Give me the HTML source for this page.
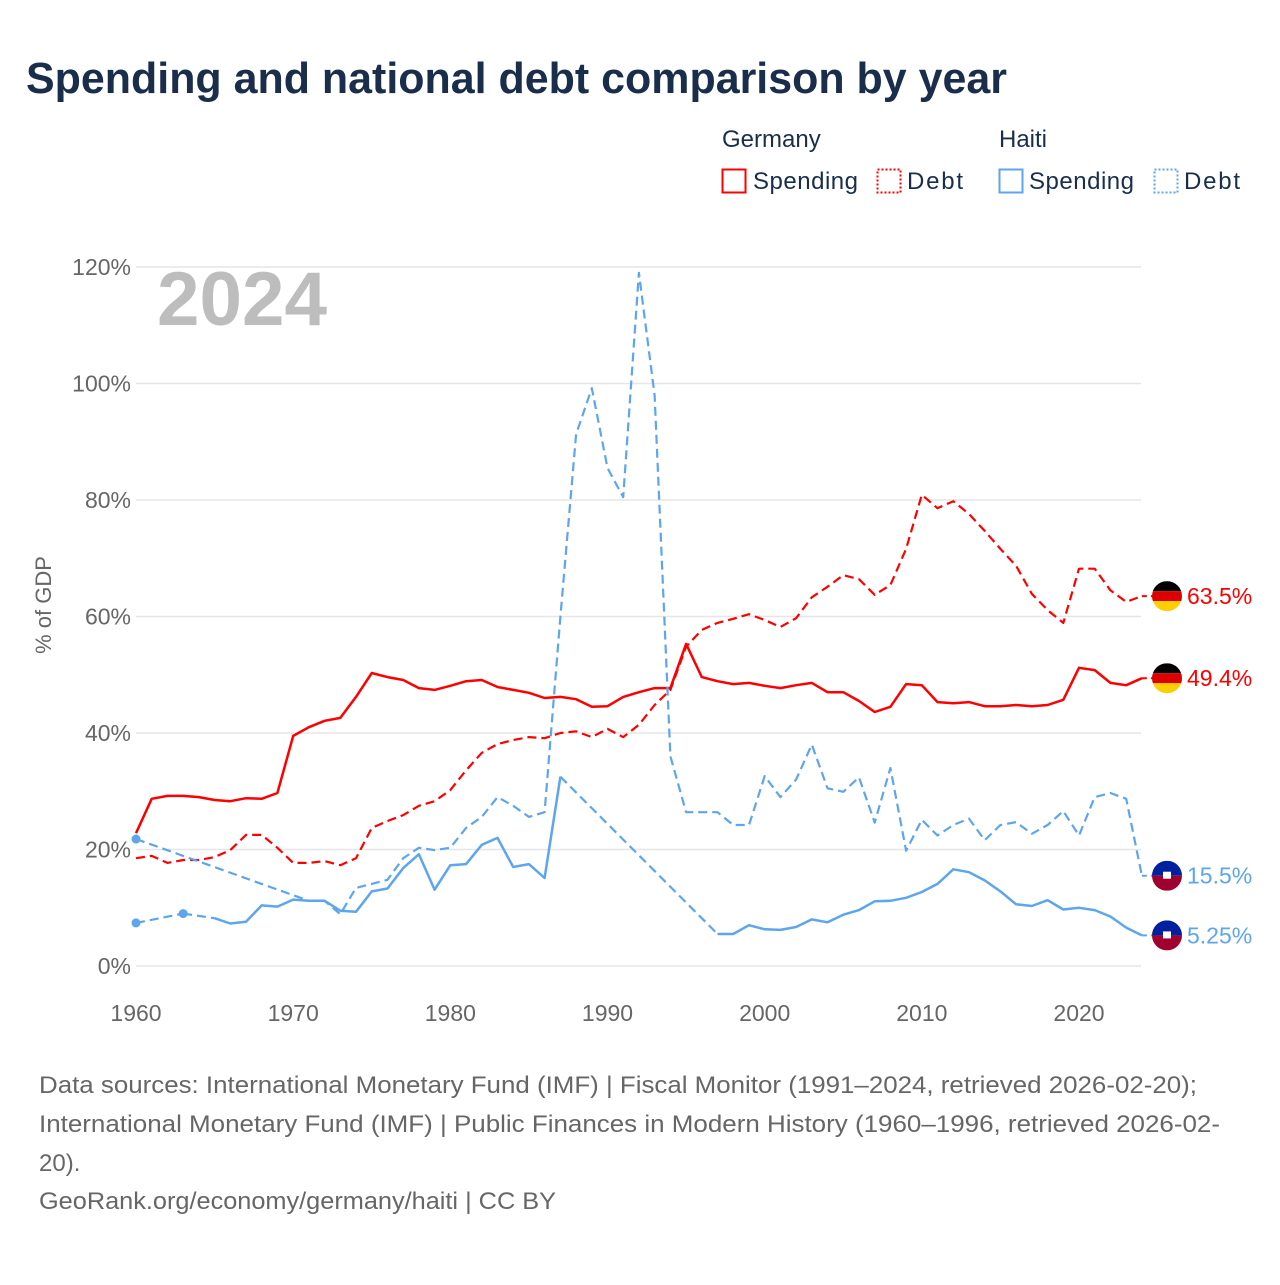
<!DOCTYPE html>
<html><head><meta charset="utf-8"><style>
body{margin:0;background:#fff;}
svg text{font-family:"Liberation Sans",sans-serif;}
</style></head><body>
<svg width="1280" height="1280" viewBox="0 0 1280 1280">
<text x="26" y="93" font-size="44" font-weight="bold" fill="#1a2e4c" textLength="981" lengthAdjust="spacingAndGlyphs">Spending and national debt comparison by year</text>
<g font-size="24" fill="#1a2e4c">
<text x="722" y="147" fill="#1a2e4c">Germany</text>
<text x="999" y="147" fill="#1a2e4c">Haiti</text>
<g><rect x="722.5" y="169.5" width="23" height="23" fill="none" stroke="#ff0000" stroke-width="2"/><text x="753" y="189" fill="#1a2e4c" textLength="105">Spending</text></g>
<g><rect x="877.5" y="169.5" width="23" height="23" fill="none" stroke="#ff0000" stroke-width="2" stroke-dasharray="2,2"/><text x="907" y="189" fill="#1a2e4c" textLength="56">Debt</text></g>
<g><rect x="999.5" y="169.5" width="23" height="23" fill="none" stroke="#5da5ec" stroke-width="2"/><text x="1029" y="189" fill="#1a2e4c" textLength="105">Spending</text></g>
<g><rect x="1154.5" y="169.5" width="23" height="23" fill="none" stroke="#5da5ec" stroke-width="2" stroke-dasharray="2,2"/><text x="1184" y="189" fill="#1a2e4c" textLength="56">Debt</text></g>
</g>
<text x="157" y="325" font-size="76" font-weight="bold" fill="#bdbdbd" textLength="170" lengthAdjust="spacingAndGlyphs">2024</text>
<text transform="translate(51,605) rotate(-90)" text-anchor="middle" font-size="22" fill="#666">% of GDP</text>
<g id="grid"></g><g id="plot"></g>
<g font-size="24" fill="#666">
<text x="39" y="1093" textLength="1158" lengthAdjust="spacingAndGlyphs">Data sources: International Monetary Fund (IMF) | Fiscal Monitor (1991–2024, retrieved 2026-02-20);</text>
<text x="39" y="1132" textLength="1181" lengthAdjust="spacingAndGlyphs">International Monetary Fund (IMF) | Public Finances in Modern History (1960–1996, retrieved 2026-02-</text>
<text x="39" y="1171">20).</text>
<text x="39" y="1209" textLength="517" lengthAdjust="spacingAndGlyphs">GeoRank.org/economy/germany/haiti | CC BY</text>
</g>
</svg>
<script>
const years=[];for(let y=1960;y<=2024;y++)years.push(y);
const yTicks=[0,20,40,60,80,100,120];
const xTicks=[1960,1970,1980,1990,2000,2010,2020];
const deSpending=[22.8,28.7,29.2,29.2,29.0,28.5,28.3,28.8,28.7,29.7,39.5,41.0,42.1,42.6,46.2,50.3,49.6,49.1,47.7,47.4,48.1,48.9,49.1,47.9,47.4,46.9,46.0,46.2,45.8,44.5,44.6,46.2,47.0,47.7,47.7,55.3,49.6,48.9,48.4,48.6,48.1,47.7,48.2,48.6,47.0,47.0,45.5,43.6,44.5,48.4,48.2,45.3,45.1,45.3,44.6,44.6,44.8,44.6,44.8,45.7,51.2,50.8,48.6,48.2,49.4];
const deDebt=[18.5,18.9,17.7,18.2,18.2,18.7,19.9,22.5,22.5,20.3,17.7,17.7,18.0,17.3,18.5,23.7,24.9,25.9,27.5,28.3,30.2,33.6,36.6,38.1,38.8,39.3,39.1,40.0,40.3,39.3,40.7,39.3,41.4,44.8,47.4,54.8,57.7,58.9,59.6,60.4,59.4,58.2,59.7,63.3,65.1,67.1,66.4,63.7,65.4,71.6,80.9,78.6,79.8,77.6,74.7,71.6,68.7,63.9,61.1,58.9,68.2,68.2,64.5,62.5,63.5];
const htSpending=[7.4,null,null,9.0,null,8.2,7.3,7.6,10.4,10.2,11.4,11.2,11.2,9.5,9.3,12.8,13.3,16.8,19.2,13.1,17.3,17.5,20.8,22.0,17.0,17.5,15.1,32.5,null,null,null,null,null,null,null,null,null,5.5,5.5,7.0,6.3,6.2,6.7,8.0,7.5,8.8,9.6,11.1,11.2,11.7,12.7,14.1,16.6,16.1,14.7,12.8,10.6,10.3,11.3,9.7,10.0,9.6,8.5,6.6,5.25];
const htDebt=[21.8,null,null,null,null,null,null,null,null,null,null,11.2,11.2,8.9,13.4,14.1,14.8,18.5,20.3,19.9,20.3,23.7,25.6,29.0,27.5,25.6,26.4,60.0,91.3,99.2,85.5,80.5,119.0,98.0,36.0,26.4,26.4,26.4,24.2,24.2,32.6,29.0,32.0,38.0,30.5,29.9,32.4,24.6,34.0,19.8,25.1,22.4,24.2,25.3,21.6,24.2,24.7,22.7,24.2,26.6,22.4,29.0,29.7,28.7,15.5];
const NS='http://www.w3.org/2000/svg';
const X=y=>136+(y-1960)*(1079-136)/60;
const Y=v=>966-v*(966-267)/120;
const grid=document.getElementById('grid'),plot=document.getElementById('plot');
function mk(tag,attrs,parent){const e=document.createElementNS(NS,tag);for(const k in attrs)e.setAttribute(k,attrs[k]);parent.appendChild(e);return e;}
yTicks.forEach(t=>{
 const l=mk('line',{x1:136,x2:1141,y1:Y(t),y2:Y(t),stroke:'#e6e6e6','stroke-width':1.5},grid);
 
 
 const tx=mk('text',{x:131,y:Y(t)+8,'text-anchor':'end','font-size':23,fill:'#666'},grid);tx.textContent=t+'%';
 
 
});
xTicks.forEach(t=>{
 const tx=mk('text',{x:X(t),y:1021,'text-anchor':'middle','font-size':23,fill:'#666'},grid);tx.textContent=t;
 
 
});
function series(vals,color,dashedAll,name){
 const g=mk('g',{},plot);
 
 
 const pts=[];vals.forEach((v,i)=>{if(v!==null)pts.push([X(years[i]),Y(v),i]);});
 if(dashedAll){
  mk('path',{d:'M'+pts.map(p=>p[0].toFixed(1)+','+p[1].toFixed(1)).join('L'),fill:'none',stroke:color,'stroke-width':2.2,'stroke-dasharray':'9,5','stroke-linejoin':'round'},g);
 } else {
  let seg=[];
  for(let k=0;k<pts.length;k++){
   if(k>0&&pts[k][2]-pts[k-1][2]>1){
    mk('line',{x1:pts[k-1][0],y1:pts[k-1][1],x2:pts[k][0],y2:pts[k][1],stroke:color,'stroke-width':2.2,'stroke-dasharray':'9,5'},g);
    if(seg.length>1)mk('path',{d:'M'+seg.join('L'),fill:'none',stroke:color,'stroke-width':2.5,'stroke-linejoin':'round'},g);
    seg=[];
   }
   seg.push(pts[k][0].toFixed(1)+','+pts[k][1].toFixed(1));
  }
  if(seg.length>1)mk('path',{d:'M'+seg.join('L'),fill:'none',stroke:color,'stroke-width':2.5,'stroke-linejoin':'round'},g);
 }
 pts.forEach((p,k)=>{const prev=k>0?pts[k-1][2]:-9,next=k<pts.length-1?pts[k+1][2]:999;
  if((p[2]-prev>1)&&(next-p[2]>1)){const c=mk('circle',{cx:p[0],cy:p[1],r:4.5,fill:color},g);
   
   }});
 const last=pts[pts.length-1];
 mk('line',{x1:last[0],y1:last[1],x2:1160,y2:last[1],stroke:color,'stroke-width':2,'stroke-dasharray':'5,4'},g);
 return last;
}
const a=series(deDebt,'#ff0000',true,'germany-debt-line');
const b=series(deSpending,'#ff0000',false,'germany-spending-line');
const c=series(htDebt,'#5da5ec',true,'haiti-debt-line');
const d=series(htSpending,'#5da5ec',false,'haiti-spending-line');
function flag(y,country,val,color){
 const g=mk('g',{},plot);
 
 
 const id='clip'+Math.round(y);
 const cp=mk('clipPath',{id:id},g);mk('circle',{cx:1167,cy:y,r:15},cp);
 const fg=mk('g',{'clip-path':'url(#'+id+')'},g);
 if(country==='germany'){
  mk('rect',{x:1150,y:y-15,width:34,height:10,fill:'#000'},fg);
  mk('rect',{x:1150,y:y-5,width:34,height:10,fill:'#dd0000'},fg);
  mk('rect',{x:1150,y:y+5,width:34,height:10,fill:'#ffce00'},fg);
 } else {
  mk('rect',{x:1150,y:y-15,width:34,height:15,fill:'#00209f'},fg);
  mk('rect',{x:1150,y:y,width:34,height:15,fill:'#a00030'},fg);
  mk('rect',{x:1163,y:y-4,width:8,height:7,fill:'#fff'},fg);
 }
 const t=mk('text',{x:1187,y:y+8,'font-size':23,fill:color},g);t.textContent=val;
}
flag(a[1],'germany','63.5%','#ff0000');
flag(b[1],'germany','49.4%','#ff0000');
flag(c[1],'haiti','15.5%','#5da5ec');
flag(d[1],'haiti','5.25%','#5da5ec');
</script>
</body></html>
